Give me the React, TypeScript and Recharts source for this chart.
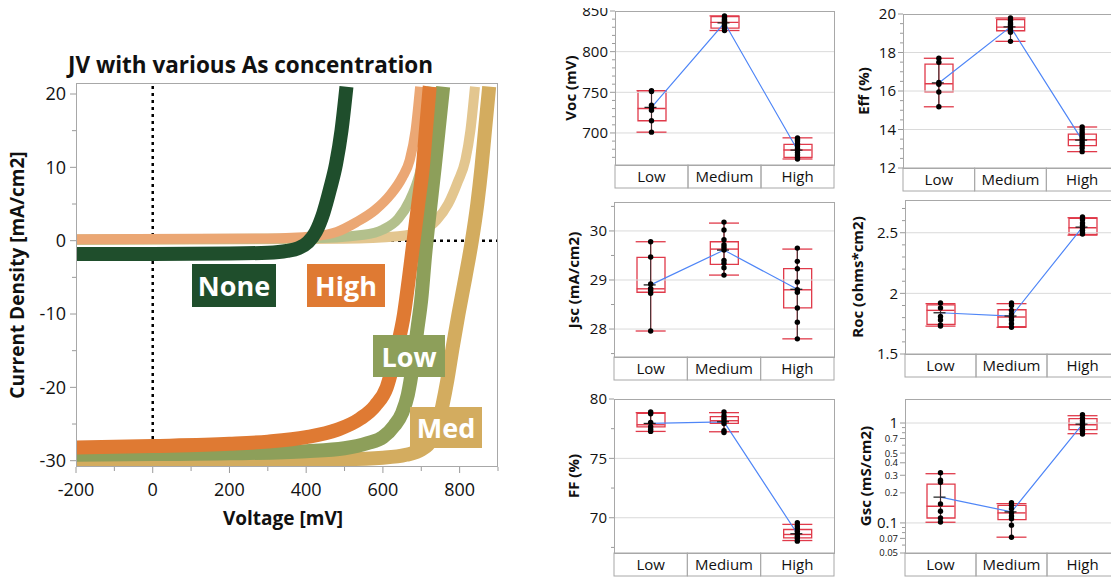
import React from 'react';
import { ComposedChart, LineChart, Line, Bar, XAxis, YAxis, ReferenceLine, ErrorBar } from 'recharts';

const FONT = '"Open Sans", "Noto Sans", sans-serif';

// JV curves: voltage (mV) and current density (mA/cm2)
const noneV = [-200, 0, 200, 300, 350, 380, 405, 425, 445, 462, 478, 492, 505];
const noneJ = [-1.8, -1.8, -1.75, -1.65, -1.4, -1.0, -0.2, 1.2, 3.8, 7, 10.5, 15, 21];

const highV = [-200, 0, 200, 300, 400, 480, 540, 580, 610, 635, 655, 668, 680, 692, 704, 712, 722];
const highJ = [-28.2, -28.0, -27.7, -27.4, -26.8, -25.8, -24.3, -22.5, -20, -15, -10, -5, 0, 5, 10, 15, 21];
const highDarkV = [-200, 300, 420, 480, 530, 580, 620, 650, 670, 685, 697];
const highDarkJ = [0.2, 0.3, 0.6, 1.2, 2.5, 4.2, 6.3, 8.6, 11, 15, 21];

const lowV = [-200, 0, 200, 400, 500, 560, 600, 630, 650, 665, 678, 690, 700, 710, 720, 735, 745, 757];
const lowJ = [-29.2, -29.1, -29.0, -28.7, -28.3, -27.6, -26.8, -25.2, -23.5, -21, -17, -12, -8, -2, 3, 10, 15, 21];
const lowDarkV = [-200, 400, 550, 600, 640, 670, 695, 712, 728];
const lowDarkJ = [0.15, 0.3, 0.8, 1.5, 3, 5.5, 9, 13, 21];

const medV = [-200, 200, 500, 600, 660, 700, 725, 742, 755, 768, 782, 797, 815, 832, 846, 857, 866, 877];
const medJ = [-30.0, -29.9, -29.8, -29.6, -29.2, -28.5, -27.3, -25.3, -22.5, -19, -14.5, -10, -5, 0, 5, 10, 15, 21];
const medDarkV = [-200, 500, 640, 700, 740, 770, 795, 815, 828, 840];
const medDarkJ = [0.1, 0.25, 0.6, 1.3, 2.8, 5, 8, 11, 15, 21];

const jvXTicks = [-200, -100, 0, 100, 200, 300, 400, 500, 600, 700, 800, 900];
const jvXMajor = [-200, 0, 200, 400, 600, 800];
const jvYTicks = [-30, -25, -20, -15, -10, -5, 0, 5, 10, 15, 20];
const jvYMajor = [-30, -20, -10, 0, 10, 20];

const C_NONE = '#1f4e2c';
const C_HIGH = '#df7a33';
const C_LOW = '#8d9f5a';
const C_MED = '#d3ac5f';
// paler tints for the dark (unlit) sweeps, drawn as open circles in the original
const T_HIGH = '#eba774';
const T_LOW = '#b3c08c';
const T_MED = '#e3c68f';

// box plot groups
const categories = ['Low', 'Medium', 'High'];

// stats per category: [min, q1, median, q3, max, mean]
const vocPoints = [
  [752, 751, 734, 731, 728, 715, 701],
  [844, 842, 840, 838, 837, 835, 833, 831, 829, 826],
  [694, 692, 690, 687, 684, 681, 679, 676, 673, 670, 668],
];
const vocStats = [[701, 715, 730, 752, 752, 731.5], [826, 829, 836, 843, 844, 835.5], [668, 670, 679, 686, 694, 679]];

const effPoints = [
  [17.7, 17.49, 16.45, 16.35, 15.95, 15.18],
  [19.79, 19.67, 19.53, 19.45, 19.36, 19.24, 19.15, 19.05, 18.58],
  [14.13, 13.99, 13.85, 13.71, 13.59, 13.47, 13.33, 13.19, 13.04, 12.85],
];
const effStats = [[15.18, 15.95, 16.38, 17.4, 17.7, 16.42], [18.58, 19.13, 19.32, 19.71, 19.79, 19.33], [12.85, 13.16, 13.47, 13.76, 14.13, 13.45]];

const jscPoints = [
  [29.78, 29.47, 28.92, 28.83, 28.79, 28.73, 27.96],
  [30.18, 30.02, 29.82, 29.72, 29.67, 29.61, 29.4, 29.34, 29.25, 29.1],
  [29.65, 29.38, 29.23, 28.96, 28.8, 28.75, 28.43, 28.14, 27.8],
];
const jscStats = [[27.96, 28.75, 28.82, 29.46, 29.78, 28.9], [29.1, 29.32, 29.63, 29.78, 30.16, 29.61], [27.8, 28.43, 28.8, 29.23, 29.63, 28.81]];

const rocPoints = [
  [1.92, 1.88, 1.81, 1.78, 1.74, 1.73],
  [1.92, 1.9, 1.86, 1.83, 1.8, 1.78, 1.75, 1.72],
  [2.63, 2.61, 2.58, 2.56, 2.54, 2.52, 2.5, 2.49],
];
const rocStats = [[1.73, 1.745, 1.86, 1.905, 1.915, 1.84], [1.72, 1.725, 1.805, 1.865, 1.915, 1.813], [2.48, 2.486, 2.541, 2.618, 2.624, 2.547]];

const ffPoints = [
  [78.9, 78.75, 78.03, 77.66, 77.46, 77.27],
  [78.9, 78.59, 78.37, 78.17, 77.94, 77.32, 77.18],
  [69.58, 69.3, 69.1, 68.87, 68.65, 68.45, 68.25, 68.03],
];
const ffStats = [[77.27, 77.66, 77.83, 78.79, 78.85, 77.94], [77.24, 77.94, 78.17, 78.51, 78.85, 78.08], [68.08, 68.31, 68.59, 69.01, 69.44, 68.65]];

const gscPoints = [
  [0.318, 0.267, 0.255, 0.155, 0.131, 0.112, 0.102],
  [0.159, 0.15, 0.139, 0.126, 0.117, 0.11, 0.095, 0.072],
  [1.21, 1.12, 1.055, 1.0, 0.948, 0.891, 0.826, 0.776],
];
const gscStats = [[0.1016, 0.112, 0.147, 0.245, 0.311, 0.181], [0.072, 0.108, 0.126, 0.15, 0.156, 0.129], [0.782, 0.858, 0.962, 1.105, 1.184, 0.977]];

const range = (a: number, b: number, s: number) => {
  const out: number[] = [];
  for (let v = a; v <= b + 1e-9; v += s) out.push(Math.round(v * 1000) / 1000);
  return out;
};

const pts = (v: number[], j: number[]) => v.map((x, i) => ({ v: x, j: j[i] }));

const darkCurves = [
  { name: 'Med dark', data: pts(medDarkV, medDarkJ), color: T_MED },
  { name: 'Low dark', data: pts(lowDarkV, lowDarkJ), color: T_LOW },
  { name: 'High dark', data: pts(highDarkV, highDarkJ), color: T_HIGH },
];
const lightCurves = [
  { name: 'Med', data: pts(medV, medJ), color: C_MED },
  { name: 'Low', data: pts(lowV, lowJ), color: C_LOW },
  { name: 'High', data: pts(highV, highJ), color: C_HIGH },
  { name: 'None', data: pts(noneV, noneJ), color: C_NONE },
];

const tags = [
  { text: 'None', color: C_NONE, x: 192, y: 264, w: 84, h: 43 },
  { text: 'High', color: C_HIGH, x: 307, y: 264, w: 78, h: 43 },
  { text: 'Low', color: C_LOW, x: 373, y: 335, w: 72, h: 42 },
  { text: 'Med', color: C_MED, x: 410, y: 407, w: 72, h: 41 },
];

const JV_L = 76, JV_T = 83, JV_W = 422, JV_H = 384;

const JvXTick = (props: any) => {
  const { x, y, payload } = props;
  const major = jvXMajor.includes(payload.value);
  return (
    <g>
      <line x1={x} x2={x} y1={y} y2={y + (major ? 6 : 4)} stroke="#9a9a9a" />
      {major && (
        <text x={x} y={y + 29} textAnchor="middle" fontSize={18} fill="#111" fontFamily={FONT}>
          {payload.value}
        </text>
      )}
    </g>
  );
};

const JvYTick = (props: any) => {
  const { x, y, payload } = props;
  const major = jvYMajor.includes(payload.value);
  return (
    <g>
      <line x1={x} x2={x - (major ? 6 : 4)} y1={y} y2={y} stroke="#9a9a9a" />
      {major && (
        <text x={x - 10} y={y} dy="0.36em" textAnchor="end" fontSize={18} fill="#111" fontFamily={FONT}>
          {payload.value}
        </text>
      )}
    </g>
  );
};

const VTitle = ({ x, y, text, size }: { x: number; y: number; text: string; size: number }) => (
  <div
    style={{
      position: 'absolute', left: x, top: y, transform: 'translate(-50%, -50%) rotate(-90deg)',
      whiteSpace: 'nowrap', fontWeight: 700, fontSize: size, color: '#111', lineHeight: 1,
    }}
  >
    {text}
  </div>
);

const JVChart = () => (
  <>
    <div style={{ position: 'absolute', left: 68, top: 51, fontSize: 22.5, fontWeight: 700, color: '#111', whiteSpace: 'nowrap', lineHeight: 1.2 }}>
      JV with various As concentration
    </div>
    <div style={{ position: 'absolute', left: 0, top: 0 }}>
      <LineChart width={540} height={577} margin={{ top: JV_T, right: 540 - JV_L - JV_W, bottom: 0, left: 0 }}>
        <XAxis
          type="number" dataKey="v" domain={[-200, 900]} allowDataOverflow ticks={jvXTicks} interval={0}
          height={577 - JV_T - JV_H} tickLine={false} axisLine={false} tickSize={0} tickMargin={0} tick={JvXTick}
        />
        <YAxis
          type="number" domain={[-30.86, 21.5]} allowDataOverflow ticks={jvYTicks} interval={0}
          width={JV_L} tickLine={false} axisLine={false} tickSize={0} tickMargin={0} tick={JvYTick}
        />
        <ReferenceLine x={0} stroke="#000" strokeWidth={2.5} strokeDasharray="3 4" />
        <ReferenceLine y={0} stroke="#000" strokeWidth={2.5} strokeDasharray="3 4" />
        {darkCurves.map((c) => (
          <Line
            key={c.name} data={c.data} dataKey="j" type="monotone" stroke={c.color}
            strokeWidth={10} dot={false} activeDot={false} isAnimationActive={false}
          />
        ))}
        {lightCurves.map((c) => (
          <Line
            key={c.name} data={c.data} dataKey="j" type="monotone" stroke={c.color}
            strokeWidth={14} dot={false} activeDot={false} isAnimationActive={false}
          />
        ))}
      </LineChart>
    </div>
    <div style={{ position: 'absolute', left: JV_L, top: JV_T, width: JV_W, height: JV_H, border: '1px solid #a8a8a8', boxSizing: 'border-box', pointerEvents: 'none' }} />
    {tags.map((t) => (
      <div
        key={t.text}
        style={{
          position: 'absolute', left: t.x, top: t.y, width: t.w, height: t.h, background: t.color, color: '#fff',
          fontWeight: 700, fontSize: 27, display: 'flex', alignItems: 'center', justifyContent: 'center',
        }}
      >
        {t.text}
      </div>
    ))}
    <VTitle x={17} y={275} text="Current Density [mA/cm2]" size={19} />
    <div style={{ position: 'absolute', left: 283, top: 518, transform: 'translate(-50%, -50%)', fontWeight: 700, fontSize: 19, whiteSpace: 'nowrap' }}>
      Voltage [mV]
    </div>
  </>
);

const buildRows = (points: number[][], stats: number[][]) =>
  categories.map((cat, i) => {
    const [mn, q1, md, q3, mx, mean] = stats[i];
    const row: any = { cat, box: [q1, q3], med: md, mean, err: [md - mn, mx - md] };
    points[i].forEach((v, k) => {
      row['p' + k] = v;
    });
    return row;
  });

const MedDot = (props: any) => {
  const { cx, cy } = props;
  return <line x1={cx - 14} x2={cx + 14} y1={cy} y2={cy} stroke="#e03a4a" strokeWidth={1.4} />;
};

const MeanDot = (props: any) => {
  const { cx, cy } = props;
  return <line x1={cx - 7} x2={cx + 5} y1={cy} y2={cy} stroke="#222" strokeWidth={1.3} />;
};

type PanelProps = {
  title: string;
  points: number[][];
  stats: number[][];
  domain: [number, number];
  ticks: number[];
  labeled: number[];
  grid: number[];
  log?: boolean;
  big?: number[];
  left: number;
  top: number;
  w: number;
  h: number;
  titleX: number;
};

const AXW = 46, MT = 12, STRIP = 24;

const BoxPanel = ({ title, points, stats, domain, ticks, labeled, grid, log, big, left, top, w, h, titleX }: PanelProps) => {
  const rows = buildRows(points, stats);
  const maxN = Math.max(...points.map((p) => p.length));
  const band = w / 3;

  const YTick = (props: any) => {
    const { x, y, payload } = props;
    const isLab = labeled.includes(payload.value);
    const fs = log ? (big && big.includes(payload.value) ? 15 : 9.5) : 15;
    return (
      <g>
        <line x1={x} x2={x - (isLab ? 5 : 3)} y1={y} y2={y} stroke="#9a9a9a" />
        {isLab && (
          <text x={x - 7} y={y} dy="0.36em" textAnchor="end" fontSize={fs} fill="#111" fontFamily={FONT}>
            {payload.value}
          </text>
        )}
      </g>
    );
  };

  const CatTick = (props: any) => {
    const { x, y, payload } = props;
    return (
      <g>
        <rect x={x - band / 2} y={y} width={band} height={STRIP - 1} fill="none" stroke="#a8a8a8" />
        <text x={x} y={y + 17} textAnchor="middle" fontSize={15} fill="#111" fontFamily={FONT}>
          {payload.value}
        </text>
      </g>
    );
  };

  return (
    <>
      <div style={{ position: 'absolute', left: left - AXW, top: top - MT }}>
        <ComposedChart width={AXW + w + 2} height={MT + h + STRIP + 1} data={rows} margin={{ top: MT, right: 2, bottom: 1, left: 0 }}>
          <XAxis
            dataKey="cat" type="category" height={STRIP} interval={0} tickLine={false} axisLine={false}
            tickSize={0} tickMargin={0} tick={CatTick}
          />
          <YAxis
            type="number" scale={log ? 'log' : 'auto'} domain={domain} allowDataOverflow ticks={ticks} interval={0}
            width={AXW} tickLine={false} axisLine={false} tickSize={0} tickMargin={0} tick={YTick}
          />
          {grid.map((g) => (
            <ReferenceLine key={g} y={g} stroke="#dadada" strokeWidth={1} />
          ))}
          <Bar dataKey="box" barSize={28} fill="none" stroke="#e03a4a" strokeWidth={1.3} isAnimationActive={false} />
          <Line dataKey="med" stroke="none" dot={MedDot} activeDot={false} isAnimationActive={false}>
            <ErrorBar dataKey="err" width={15} stroke="#e03a4a" strokeWidth={1.3} direction="y" />
            <ErrorBar dataKey="err" width={0} stroke="#333" strokeWidth={1} direction="y" />
          </Line>
          <Line dataKey="mean" type="linear" stroke="#4f86f7" strokeWidth={1.2} dot={MeanDot} activeDot={false} isAnimationActive={false} />
          {Array.from({ length: maxN }, (_, k) => (
            <Line
              key={k} dataKey={'p' + k} stroke="none" dot={{ r: 2.7, fill: '#000', stroke: 'none' }}
              activeDot={false} isAnimationActive={false}
            />
          ))}
        </ComposedChart>
      </div>
      <div style={{ position: 'absolute', left, top, width: w + 1, height: h + 1, border: '1px solid #a8a8a8', boxSizing: 'border-box', pointerEvents: 'none' }} />
      <VTitle x={titleX} y={top + h / 2} text={title} size={15} />
    </>
  );
};

export default function App() {
  return (
    <div
      style={{
        position: 'relative', width: 1119, height: 577, margin: '-8px 0 0 -8px', background: '#fff',
        fontFamily: FONT, overflow: 'hidden', color: '#111',
      }}
    >
      <JVChart />
      <BoxPanel
        title="Voc (mV)" points={vocPoints} stats={vocStats} domain={[660.6, 850]} ticks={range(670, 850, 10)}
        labeled={[700, 750, 800, 850]} grid={[700, 750, 800]} left={615} top={11} w={219} h={154} titleX={570}
      />
      <BoxPanel
        title="Eff (%)" points={effPoints} stats={effStats} domain={[12, 20]} ticks={range(12, 20, 0.5)}
        labeled={[12, 14, 16, 18, 20]} grid={[14, 16, 18]} left={903} top={14} w={215} h={154} titleX={863}
      />
      <BoxPanel
        title="Jsc (mA/cm2)" points={jscPoints} stats={jscStats} domain={[27.43, 30.59]} ticks={range(27.5, 30.5, 0.5)}
        labeled={[28, 29, 30]} grid={[28, 29, 30]} left={614} top={202} w={220} h={155} titleX={573}
      />
      <BoxPanel
        title="Roc (ohms*cm2)" points={rocPoints} stats={rocStats} domain={[1.5, 2.77]} ticks={range(1.5, 2.7, 0.1)}
        labeled={[1.5, 2, 2.5]} grid={[2, 2.5]} left={905} top={200} w={213} h={154} titleX={857}
      />
      <BoxPanel
        title="FF (%)" points={ffPoints} stats={ffStats} domain={[67.03, 80]} ticks={range(67.5, 80, 2.5)}
        labeled={[70, 75, 80]} grid={[70, 75]} left={614} top={399} w={220} h={154} titleX={573}
      />
      <BoxPanel
        title="Gsc (mS/cm2)" points={gscPoints} stats={gscStats} domain={[0.05, 1.74]} log
        ticks={[0.05, 0.06, 0.07, 0.08, 0.09, 0.1, 0.2, 0.3, 0.4, 0.5, 0.6, 0.7, 0.8, 0.9, 1]}
        labeled={[0.05, 0.07, 0.1, 0.2, 0.3, 0.4, 0.5, 0.7, 1]} big={[0.1, 1]} grid={[0.1, 1]}
        left={905} top={399} w={213} h={154} titleX={865}
      />
    </div>
  );
}
